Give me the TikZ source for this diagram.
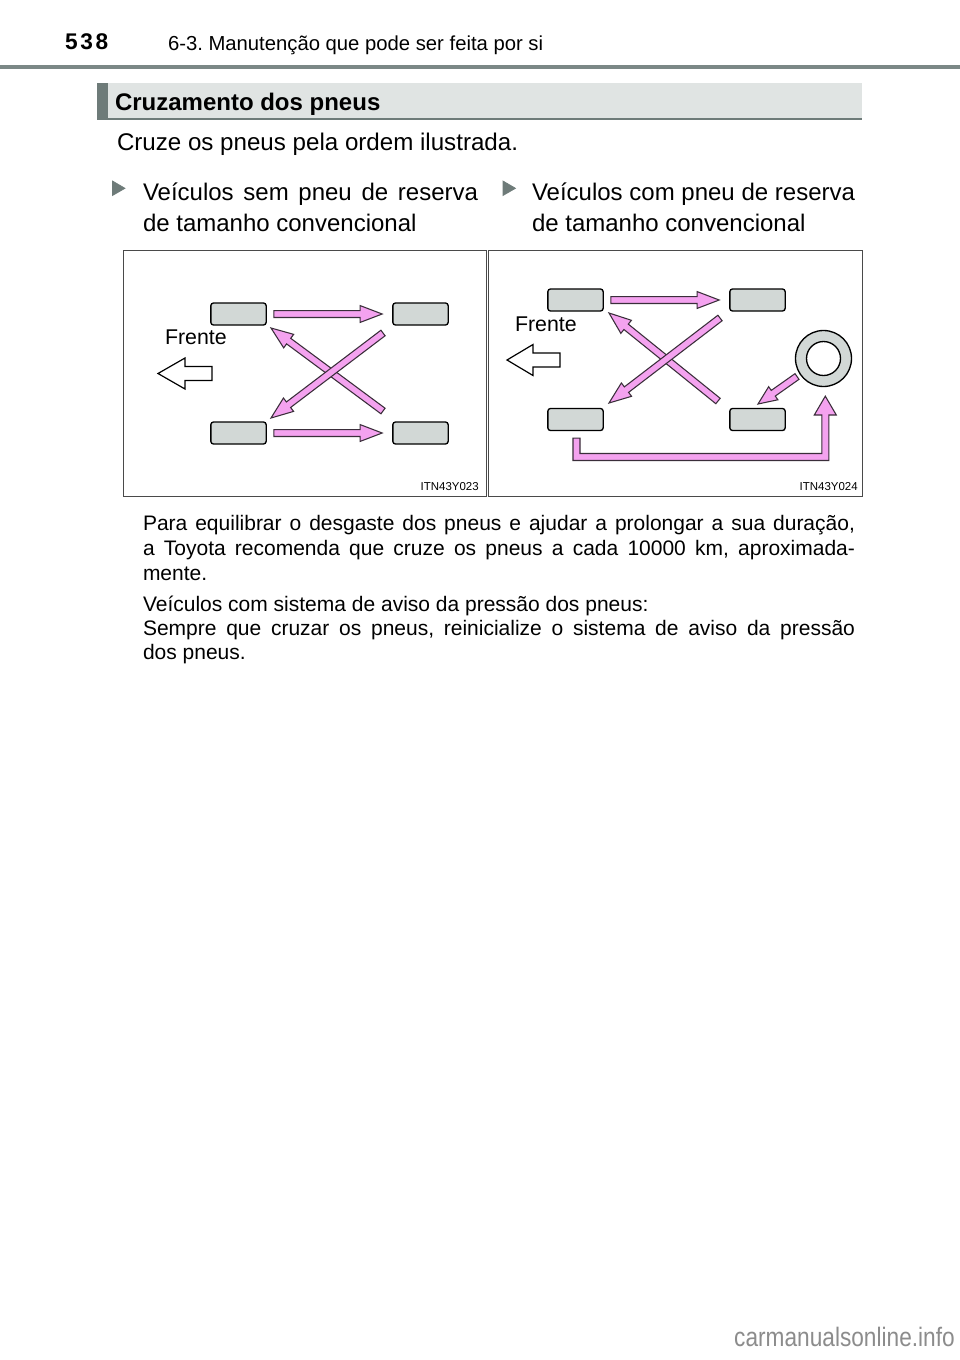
\documentclass[tikz,border=0pt]{standalone}
\usepackage{fontspec}
\setmainfont{Liberation Sans}
\newfontfamily\numfont[LetterSpace=12]{Liberation Sans}
\newfontfamily\wmfont[FakeStretch=0.85]{Liberation Sans}
\usetikzlibrary{calc}
\frenchspacing
\definecolor{tirefill}{HTML}{D2D8D6}
\definecolor{arrowpink}{HTML}{F4A2EF}
\definecolor{arrowline}{HTML}{3A2E3A}
\definecolor{secbg}{HTML}{E0E4E3}
\definecolor{secbar}{HTML}{6E7B79}
\definecolor{rulegray}{HTML}{7B8886}
\definecolor{wmgray}{HTML}{8C8C8C}
\definecolor{panelline}{HTML}{4A4A4A}
\newcommand{\shw}{2.6pt}
\newcommand{\fatarr}[4]{%
  \coordinate (fa-hb) at ($(#2)!#3!(#1)$);
  \draw[pinkarrow] ($(#1)!\shw!90:(#2)$) -- ($(fa-hb)!\shw!90:(#2)$) -- ($(fa-hb)!#4!90:(#2)$) -- (#2)
    -- ($(fa-hb)!#4!-90:(#2)$) -- ($(fa-hb)!\shw!-90:(#2)$) -- ($(#1)!\shw!-90:(#2)$) -- cycle;}
\tikzset{
  txt/.style={anchor=base west, inner sep=0pt, outer sep=0pt},
  bodytxt/.style={txt, font=\fontsize{15.75}{18}\selectfont},
  bullettxt/.style={txt, font=\fontsize{18}{20}\selectfont},
  tire/.style={draw=black, fill=tirefill, line width=1pt, rounded corners=2pt,
    minimum width=41.5pt, minimum height=16.5pt, inner sep=0pt},
  pinkarrow/.style={fill=arrowpink, draw=arrowline, line width=0.8pt, line join=miter},
  frontarrow/.style={fill=white, draw=black, line width=0.9pt, line join=miter},
  panel/.style={draw=panelline, line width=0.7pt},
  frente/.style={txt, font=\fontsize{16}{18}\selectfont},
  code/.style={anchor=base east, inner sep=0pt, font=\fontsize{8.6}{10}\selectfont},
  bullet/.style={fill=secbar, draw=secbar, line width=0.5pt, line join=miter},
}
\begin{document}
\begin{tikzpicture}[x=0.75pt, y=-0.75pt]
\useasboundingbox (0,0) rectangle (960,1360);
\fill[white] (0,0) rectangle (960,1360);

% header
\node[txt, font=\numfont\bfseries\fontsize{17}{18}\selectfont] (pg) at (65,49.5) {538};
\node[txt, font=\fontsize{15.2}{18}\selectfont] (hdr) at (168,50) {6-3. Manutenção que pode ser feita por si};
\draw[rulegray, line width=3pt] (0,67) -- (960,67);

% section title box
\fill[secbg] (97,83) rectangle (862,119);
\fill[secbar] (97,83) rectangle (108,119);
\draw[secbar, line width=1.5pt] (97,118.5) -- (862,118.5);
\node[txt, font=\bfseries\fontsize{18}{20}\selectfont] (sec) at (115,110) {Cruzamento dos pneus};

\node[txt, font=\fontsize{18.1}{20}\selectfont] (intro) at (117,150) {Cruze os pneus pela ordem ilustrada.};

% bullets
\fill[bullet] (112.5,181) -- (125,188.3) -- (112.5,195.5) -- cycle;
\node[bullettxt] (b1a) at (143,200) {\makebox[251.25pt][s]{Veículos sem pneu de reserva}};
\node[bullettxt] (b1b) at (143,231) {de tamanho convencional};
\fill[bullet] (503,181) -- (515.5,188.3) -- (503,195.5) -- cycle;
\node[bullettxt] (b2a) at (532,200) {\makebox[242.25pt][s]{Veículos com pneu de reserva}};
\node[bullettxt] (b2b) at (532,231) {de tamanho convencional};

% panels
\draw[panel] (123,250) rectangle (486,496);
\draw[panel] (488,250) rectangle (862,496);
\node[code] (c1) at (479,490.5) {ITN43Y023};
\node[code] (c2) at (858,490.5) {ITN43Y024};

% ---- left panel
\node[tire] (ltl) at (238.5,314) {};
\node[tire] (ltr) at (420.5,314) {};
\node[tire] (lbl) at (238.5,433) {};
\node[tire] (lbr) at (420.5,433) {};
\node[frente] (lfr) at (165,344.5) {Frente};
\draw[frontarrow] (158,373.5) -- (185,358) -- (185,366.5) -- (212,366.5) -- (212,380.5) -- (185,380.5) -- (185,389) -- cycle;

\coordinate (l1s) at ($(ltl.east)+(7,0)$);
\coordinate (l1e) at ($(ltr.west)+(-10,0)$);
\coordinate (l2s) at ($(lbl.east)+(7,0)$);
\coordinate (l2e) at ($(lbr.west)+(-10,0)$);
\coordinate (l3s) at (383,411);
\coordinate (l3e) at (271,328);
\coordinate (l4s) at (383,333);
\coordinate (l4e) at (271,418);
\fatarr{l3s}{l3e}{16.5pt}{6.3pt}
\fatarr{l4s}{l4e}{16.5pt}{6.3pt}
\fatarr{l1s}{l1e}{16.5pt}{6.3pt}
\fatarr{l2s}{l2e}{16.5pt}{6.3pt}

% ---- right panel
\node[tire] (rtl) at (575.5,300) {};
\node[tire] (rtr) at (757.5,300) {};
\node[tire] (rbl) at (575.5,419.5) {};
\node[tire] (rbr) at (757.5,419.5) {};
\node[circle, draw=black, fill=tirefill, line width=1pt, minimum size=42pt, inner sep=0pt] (sp) at (823.5,358.5) {};
\node[circle, draw=black, fill=white, line width=1pt, minimum size=25.5pt, inner sep=0pt] (spin) at (sp.center) {};
\node[frente] (rfr) at (515,331) {Frente};
\draw[frontarrow] (507,360) -- (533,344.5) -- (533,353) -- (560,353) -- (560,367) -- (533,367) -- (533,375.5) -- cycle;

\coordinate (r1s) at ($(rtl.east)+(7,0)$);
\coordinate (r1e) at ($(rtr.west)+(-10,0)$);
\coordinate (r3s) at (718,401);
\coordinate (r3e) at (609,313);
\coordinate (r4s) at (720,318);
\coordinate (r4e) at (609,403);
\coordinate (r5s) at (797,376.5);
\coordinate (r5e) at (758,404);
\fatarr{r3s}{r3e}{16.5pt}{6.3pt}
\fatarr{r4s}{r4e}{16.5pt}{6.3pt}
\fatarr{r1s}{r1e}{16.5pt}{6.3pt}
\fatarr{r5s}{r5e}{14pt}{6pt}
% L-shaped arrow from bottom-left tire to spare
\draw[pinkarrow] ($(rbl.south)+(-2.5,7)$) -- (573,460.5) -- (828.8,460.5) -- (828.8,415) -- (836.3,415)
  -- ($(sp.south)+(1.8,9)$) -- (814.3,415) -- (821.8,415) -- (821.8,453.5) -- (580,453.5)
  -- ($(rbl.south)+(4.5,7)$) -- cycle;

% body text
\node[bodytxt] (p1) at (143,530) {\makebox[534pt][s]{Para equilibrar o desgaste dos pneus e ajudar a prolongar a sua duração,}};
\node[bodytxt] (p2) at (143,555) {\makebox[534pt][s]{a Toyota recomenda que cruze os pneus a cada 10000 km, aproximada-}};
\node[bodytxt] (p3) at (143,580) {mente.};
\node[bodytxt] (p4) at (143,611) {Veículos com sistema de aviso da pressão dos pneus:};
\node[bodytxt] (p5) at (143,635) {\makebox[534pt][s]{Sempre que cruzar os pneus, reinicialize o sistema de aviso da pressão}};
\node[bodytxt] (p6) at (143,659) {dos pneus.};

% watermark
\node[anchor=base east, inner sep=0pt, text=wmgray, font=\wmfont\fontsize{20}{22}\selectfont] (wm) at (955,1346) {carmanualsonline.info};
\end{tikzpicture}
\end{document}
